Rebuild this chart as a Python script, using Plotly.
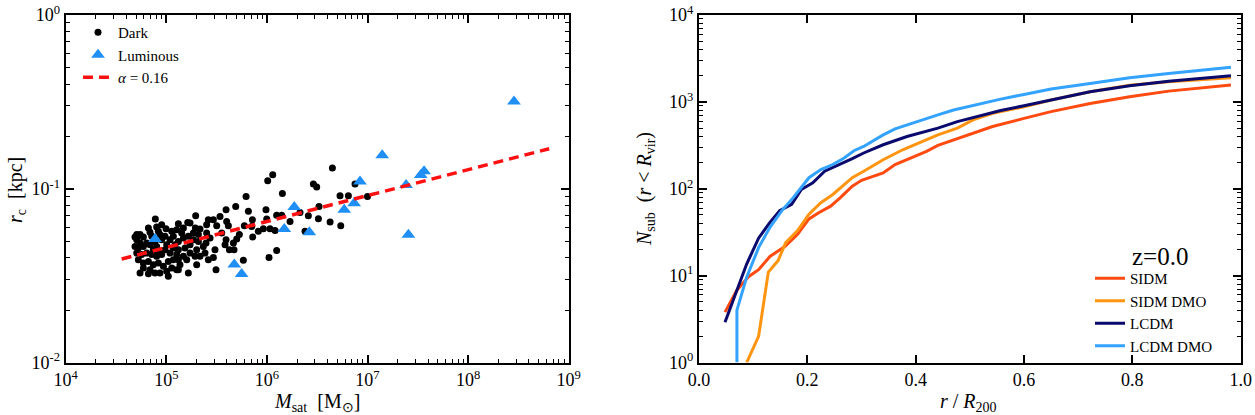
import plotly.graph_objects as go

# ---- left panel: core radius vs satellite mass (log10 values)
dark_log_m = [6.058, 6.008, 6.651, 6.462, 6.495, 6.154, 5.793, 6.876, 6.727, 6.810,
              7.000, 5.690, 5.594, 5.991, 6.518, 6.412, 6.512, 6.628, 6.734, 6.379,
              6.329, 6.097, 6.147, 5.998, 5.965, 6.031, 6.081, 5.856, 5.849, 5.859,
              5.776, 5.726, 5.700, 5.667, 5.600, 5.617, 5.594, 5.584, 5.627, 5.673,
              5.766, 5.494, 6.021, 6.097, 5.418, 5.468, 5.501, 5.292, 5.213, 5.236,
              5.289, 5.335, 5.319, 5.401, 5.435, 5.395, 5.368, 5.484, 5.468, 5.385,
              5.302, 5.335, 5.219, 5.120, 4.891, 4.822, 4.904, 4.921, 4.997, 5.103,
              5.170, 4.706, 4.739, 4.772, 4.706, 4.689, 4.722, 4.772, 4.805, 4.838,
              4.871, 4.904, 4.954, 4.987, 5.037, 5.070, 5.120, 5.170, 5.219, 5.269,
              5.236, 5.186, 5.120, 5.070, 5.037, 4.987, 4.954, 4.904, 4.855, 4.805,
              4.755, 4.722, 4.772, 4.822, 4.871, 4.921, 4.971, 5.020, 5.070, 5.120,
              5.054, 5.004, 5.020, 4.937, 4.888, 4.822, 4.739, 4.772, 5.136, 5.170,
              5.236, 5.286, 5.103, 4.689, 4.739, 4.855, 4.888, 4.937, 5.004, 5.087,
              5.153, 5.269, 5.319, 4.838, 5.054, 4.954, 5.120, 4.706, 4.921, 5.203,
              5.401, 5.551, 5.534, 5.816, 5.915, 6.230, 4.838, 5.103, 5.302, 5.418]
dark_log_rc = [-0.920, -0.954, -0.881, -0.973, -0.990, -1.027, -1.044, -0.973, -1.040, -1.040,
               -1.044, -1.102, -1.121, -1.121, -1.102, -1.155, -1.173, -1.192, -1.213, -1.245,
               -1.136, -1.153, -1.153, -1.174, -1.230, -1.230, -1.241, -1.178, -1.217, -1.278,
               -1.213, -1.264, -1.289, -1.312, -1.188, -1.213, -1.293, -1.322, -1.351, -1.351,
               -1.412, -1.466, -1.395, -1.356, -1.178, -1.178, -1.213, -1.155, -1.194, -1.197,
               -1.226, -1.232, -1.264, -1.255, -1.284, -1.312, -1.332, -1.351, -1.395, -1.370,
               -1.351, -1.389, -1.485, -1.466, -1.174, -1.226, -1.220, -1.245, -1.230, -1.236,
               -1.226, -1.264, -1.264, -1.278, -1.293, -1.332, -1.341, -1.332, -1.312, -1.322,
               -1.351, -1.332, -1.293, -1.274, -1.293, -1.274, -1.303, -1.284, -1.274, -1.293,
               -1.322, -1.341, -1.351, -1.341, -1.370, -1.351, -1.379, -1.389, -1.379, -1.370,
               -1.379, -1.408, -1.427, -1.418, -1.437, -1.427, -1.446, -1.418, -1.408, -1.408,
               -1.456, -1.475, -1.504, -1.485, -1.485, -1.489, -1.485, -1.456, -1.437, -1.389,
               -1.370, -1.389, -1.379, -1.278, -1.312, -1.274, -1.303, -1.264, -1.322, -1.322,
               -1.255, -1.255, -1.303, -1.251, -1.245, -1.207, -1.201, -1.370, -1.360, -1.408,
               -1.207, -1.255, -1.159, -1.130, -1.245, -1.188, -1.466, -1.466, -1.437, -1.408]

lum_mass = [7.73e4, 4.74e5, 5.61e5, 1.49e6, 1.87e6, 2.64e6, 5.87e6, 7.37e6,
            8.42e6, 1.40e7, 2.42e7, 3.38e7, 3.65e7, 2.55e7, 2.86e8]
lum_rc = [0.0514, 0.0366, 0.0323, 0.0587, 0.0785, 0.0562, 0.0757, 0.0826,
          0.110, 0.156, 0.105, 0.120, 0.126, 0.0544, 0.318]

fit_mass = [3.6e4, 6.4e8]
fit_rc = [0.0394, 0.170]

# ---- right panel: cumulative subhalo counts
sidm_x = [0.048, 0.07, 0.092, 0.11, 0.131, 0.16, 0.182, 0.203, 0.221, 0.243, 0.261, 0.283, 0.30,
          0.34, 0.362, 0.398, 0.42, 0.441, 0.47, 0.506, 0.542, 0.6, 0.65, 0.722, 0.795, 0.867,
          0.939, 0.982]
sidm_n = [3.8, 6.8, 9.8, 11.7, 16.6, 22, 30, 45, 53, 63, 79, 107, 125, 152, 190, 236, 270, 316,
          366, 437, 520, 646, 773, 958, 1147, 1330, 1487, 1560]

sidm_dmo_x = [0.088, 0.11, 0.128, 0.146, 0.16, 0.182, 0.203, 0.225, 0.247, 0.265, 0.283, 0.304,
              0.34, 0.376, 0.412, 0.441, 0.477, 0.506, 0.542, 0.6, 0.65, 0.722, 0.795, 0.867, 0.982]
sidm_dmo_n = [1.0, 2.0, 11, 14.9, 24, 33, 51, 69, 86, 107, 134, 159, 216, 281, 351, 417, 498,
              620, 740, 880, 1050, 1306, 1550, 1700, 1890]

lcdm_x = [0.048, 0.07, 0.088, 0.11, 0.131, 0.149, 0.171, 0.189, 0.21, 0.232, 0.261, 0.283, 0.304,
          0.34, 0.384, 0.412, 0.441, 0.477, 0.513, 0.557, 0.6, 0.65, 0.722, 0.795, 0.867, 0.982]
lcdm_n = [2.9, 6.8, 13.6, 27, 41, 56, 66, 98, 117, 159, 190, 222, 258, 321, 399, 444, 498, 593,
          677, 794, 904, 1050, 1306, 1530, 1730, 1995]

lcdm_dmo_x = [0.07, 0.07, 0.088, 0.11, 0.131, 0.153, 0.174, 0.203, 0.225, 0.247, 0.268, 0.286,
              0.304, 0.34, 0.362, 0.398, 0.441, 0.47, 0.513, 0.557, 0.6, 0.65, 0.722, 0.795,
              0.867, 0.982]
lcdm_dmo_n = [1.0, 4.0, 9.6, 21, 36, 56, 79, 134, 166, 190, 226, 274, 307, 417, 490, 583, 708,
              807, 935, 1075, 1218, 1403, 1630, 1890, 2118, 2500]

FONT = "Liberation Serif"
W, H = 1255, 415


def px(x):
    return x / W


def py(y):
    return 1 - y / H


fig = go.Figure()

fig.add_trace(go.Scatter(x=[10 ** v for v in dark_log_m], y=[10 ** v for v in dark_log_rc],
                         mode="markers", name="Dark", legend="legend",
                         marker=dict(color="black", size=7), xaxis="x", yaxis="y"))
fig.add_trace(go.Scatter(x=lum_mass, y=lum_rc, mode="markers", name="Luminous", legend="legend",
                         marker=dict(color="#1f8ff5", size=12, symbol="triangle-up"),
                         xaxis="x", yaxis="y"))
fig.add_trace(go.Scatter(x=fit_mass, y=fit_rc, mode="lines", name="<i>α</i> = 0.16",
                         legend="legend", line=dict(color="#ff1010", width=3.5, dash="10px,6px"),
                         xaxis="x", yaxis="y"))

curves = [("SIDM", sidm_x, sidm_n, "#ff4a10"),
          ("SIDM DMO", sidm_dmo_x, sidm_dmo_n, "#ff9410"),
          ("LCDM", lcdm_x, lcdm_n, "#0a0a6e"),
          ("LCDM DMO", lcdm_dmo_x, lcdm_dmo_n, "#33a3ff")]
for name, xs, ys, col in curves:
    fig.add_trace(go.Scatter(x=xs, y=ys, mode="lines", name=name, legend="legend2",
                             line=dict(color=col, width=3), xaxis="x2", yaxis="y2"))


def log_minor(lo, hi):
    return [d * 10 ** e for e in range(lo, hi) for d in range(2, 10)]


axis_common = dict(showline=True, linecolor="black", linewidth=2, mirror="allticks",
                   ticks="inside", ticklen=8, tickwidth=1.5, tickcolor="black",
                   showgrid=False, zeroline=False, automargin=False,
                   ticklabeloverflow="allow",
                   tickfont=dict(family=FONT, size=18, color="black"))
minor_common = dict(ticks="inside", ticklen=4, tickwidth=1.2, tickcolor="black",
                    tickmode="array", showgrid=False)

y_dom = [py(362.5), py(15)]


def title_note(text, x, y, angle=0):
    return dict(text=text, x=px(x), y=py(y), xref="paper", yref="paper",
                xanchor="center", yanchor="middle",
                showarrow=False, textangle=angle,
                font=dict(family=FONT, size=20, color="black"))


fig.update_layout(
    template="none",
    width=W, height=H,
    margin=dict(l=0, r=0, t=0, b=0, pad=0),
    paper_bgcolor="white", plot_bgcolor="white",
    font=dict(family=FONT, color="black"),
    showlegend=True,
    xaxis=dict(type="log", range=[4, 9], domain=[px(65.7), px(568.7)], anchor="y",
               tickvals=[10 ** e for e in range(4, 10)],
               ticktext=[f"10<sup>{e}</sup>" for e in range(4, 10)],
               minor=dict(tickvals=log_minor(4, 9), **minor_common),
               **axis_common),
    yaxis=dict(type="log", range=[-2, 0], domain=y_dom, anchor="x",
               tickvals=[0.01, 0.1, 1],
               ticktext=["10<sup>-2</sup>", "10<sup>-1</sup>", "10<sup>0</sup>"],
               minor=dict(tickvals=log_minor(-2, 0), **minor_common),
               **axis_common),
    xaxis2=dict(range=[0, 1], domain=[px(699), px(1240.7)], anchor="y2",
                tickvals=[0.0, 0.2, 0.4, 0.6, 0.8, 1.0],
                ticktext=["0.0", "0.2", "0.4", "0.6", "0.8", "1.0"],
                **axis_common),
    yaxis2=dict(type="log", range=[0, 4], domain=y_dom, anchor="x2",
                tickvals=[10 ** e for e in range(0, 5)],
                ticktext=[f"10<sup>{e}</sup>" for e in range(0, 5)],
                minor=dict(tickvals=log_minor(0, 4), **minor_common),
                **axis_common),
    legend=dict(x=px(78), y=py(16), xanchor="left", yanchor="top",
                bgcolor="rgba(0,0,0,0)", font=dict(family=FONT, size=15),
                tracegroupgap=0, itemwidth=30),
    legend2=dict(x=px(1090), y=py(262), xanchor="left", yanchor="top",
                 bgcolor="rgba(0,0,0,0)", font=dict(family=FONT, size=15),
                 tracegroupgap=0, itemwidth=30),
    annotations=[
        title_note("<i>M</i><sub>sat</sub>  [M<sub>⊙</sub>]", 317, 402),
        title_note("<i>r</i><sub>c</sub>  [kpc]", 17, 190, -90),
        title_note("<i>r</i> / <i>R</i><sub>200</sub>", 968, 402),
        title_note("<i>N</i><sub>sub</sub>  (<i>r</i> &lt; <i>R</i><sub>vir</sub>)", 645, 189, -90),
        dict(text="z=0.0", x=px(1160), y=py(256), xref="paper", yref="paper",
             xanchor="center", yanchor="middle",
             showarrow=False, font=dict(family=FONT, size=25, color="black")),
    ],
)

# drop the page's default body margin so the figure sits at the window's corner
fig.write_html("out.html", config={"displayModeBar": False},
               post_script="document.body.style.margin = '0';")
